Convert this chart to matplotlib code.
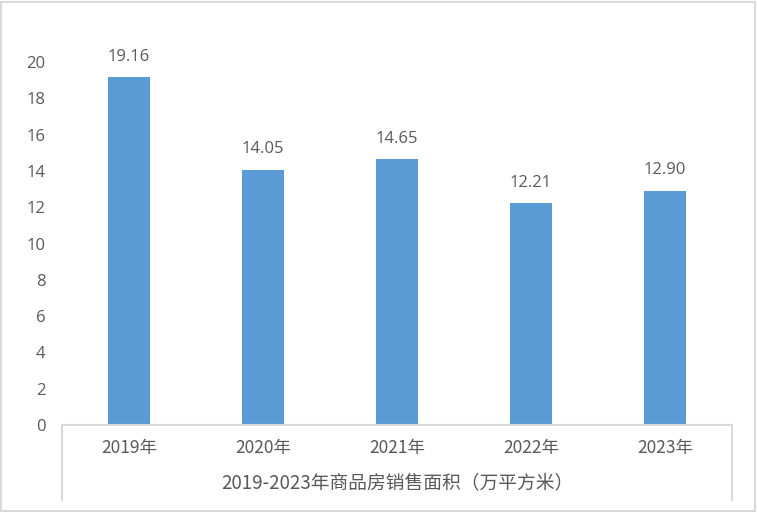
import matplotlib.pyplot as plt
from matplotlib.lines import Line2D
from matplotlib.patches import Rectangle

plt.rcParams['font.family'] = ['Open Sans', 'Noto Sans CJK SC', 'DejaVu Sans']

years = ["2019年", "2020年", "2021年", "2022年", "2023年"]
areas = [19.16, 14.05, 14.65, 12.21, 12.90]
xlabel = "2019-2023年商品房销售面积（万平方米）"

W, H = 757, 512
fig = plt.figure(figsize=(W / 100, H / 100), dpi=100)
txt = "#595959"
grid = "#d9d9d9"

left, right, bottom, top = 62, 732, 425, 62
ax = fig.add_axes([left / W, 1 - bottom / H, (right - left) / W, (bottom - top) / H])
x = range(len(years))
ax.bar(x, areas, width=0.31, color="#5b9bd5")
ax.set_xlim(-0.5, len(years) - 0.5)
ax.set_ylim(0, 20)
ax.set_yticks(range(0, 21, 2))
ax.tick_params(axis="y", length=0, labelsize=12, labelcolor=txt, pad=12)
ax.set_xticks([])
for s in ["left", "right", "top"]:
    ax.spines[s].set_visible(False)
ax.spines["bottom"].set_color(grid)
ax.spines["bottom"].set_linewidth(1.5)

for i, v in enumerate(areas):
    ax.annotate(f"{v:.2f}", (i, v), xytext=(0, 9), textcoords="offset points",
                ha="center", va="bottom", fontsize=12, color=txt)

# category labels and axis title below the axis
cjk = ["Noto Sans CJK SC", "DejaVu Sans"]
for i, y in enumerate(years):
    xc = left + (i + 0.5) * (right - left) / len(years)
    fig.text(xc / W, 1 - 448 / H, y, ha="center", va="center",
             fontsize=12.5, color=txt, family=cjk)
fig.text((left + right) / 2 / W, 1 - 484 / H, xlabel, ha="center", va="center",
         fontsize=13.5, color=txt, family=cjk)

for xv in (left, right):
    fig.add_artist(Line2D([xv / W, xv / W], [1 - bottom / H, 1 - 500 / H],
                          color=grid, lw=1.5))

fig.add_artist(Rectangle((0.001, 0.002), 0.997, 0.995, transform=fig.transFigure,
                         fill=False, edgecolor=grid, lw=1.5))

fig.savefig("out.png", dpi=100)
